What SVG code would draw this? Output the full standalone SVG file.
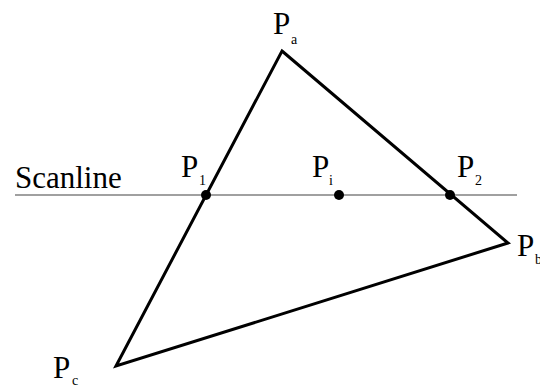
<svg xmlns="http://www.w3.org/2000/svg" width="540" height="388" viewBox="0 0 540 388">
<style>
.t{font-size:31px}
.s{font-size:14px}
.tri{fill:none;stroke:#000;stroke-width:3;stroke-linejoin:miter}
.scan{stroke:#808080;stroke-width:1.5}
</style>
<rect width="540" height="388" fill="#fff"/>
<g id="connectors">
<line id="scanline" class="scan" x1="15" y1="195" x2="517" y2="195"/>
<polygon id="triangle" class="tri" points="282,51 508,243 116,366"/>
</g>
<g font-family="Liberation Serif, Times New Roman, DejaVu Serif, serif" fill="#000">
<g id="label-scanline"><text class="t" x="15" y="188" font-size="33">Scanline</text></g>
<g id="Pa"><text class="t" x="273" y="34">P</text><text class="s" x="291" y="44">a</text></g>
<g id="Pb"><text class="t" x="517" y="256">P</text><text class="s" x="535" y="264">b</text></g>
<g id="Pc"><text class="t" x="53" y="378">P</text><text class="s" x="72" y="385">c</text></g>
<g id="P1"><circle cx="206" cy="195" r="5"/><text class="t" x="181" y="177">P</text><text class="s" x="199" y="185">1</text></g>
<g id="Pi"><circle cx="339" cy="195" r="5"/><text class="t" x="312" y="177">P</text><text class="s" x="329" y="185">i</text></g>
<g id="P2"><circle cx="450" cy="195" r="5"/><text class="t" x="457" y="177">P</text><text class="s" x="475" y="185">2</text></g>
</g>
</svg>
